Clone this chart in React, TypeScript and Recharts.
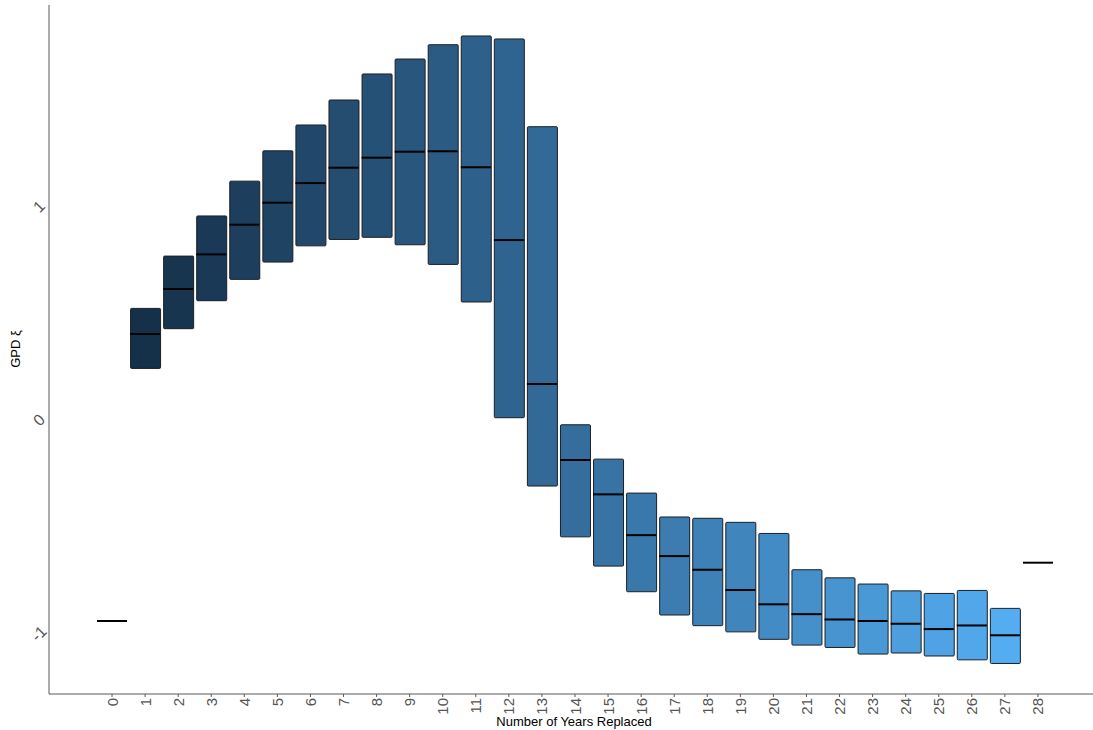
import React from 'react';
import { ComposedChart, Bar, Scatter, XAxis, YAxis, Cell } from 'recharts';

// Number of years replaced (x categories)
const years = [
  '0', '1', '2', '3', '4', '5', '6', '7', '8', '9', '10', '11', '12', '13', '14',
  '15', '16', '17', '18', '19', '20', '21', '22', '23', '24', '25', '26', '27', '28',
];

// Box bottoms / tops of GPD shape estimate (null = no box, median only)
const boxLow: (number | null)[] = [
  null, 0.242, 0.428, 0.559, 0.659, 0.74, 0.816, 0.846, 0.856, 0.821, 0.729, 0.553, 0.011, -0.309,
  -0.547, -0.684, -0.804, -0.913, -0.963, -0.992, -1.027, -1.054, -1.065, -1.096, -1.091, -1.105,
  -1.123, -1.14, null,
];
const boxHigh: (number | null)[] = [
  null, 0.523, 0.768, 0.956, 1.119, 1.261, 1.382, 1.499, 1.621, 1.691, 1.758, 1.799, 1.785, 1.374,
  -0.022, -0.183, -0.342, -0.454, -0.46, -0.479, -0.531, -0.701, -0.739, -0.768, -0.8, -0.812,
  -0.798, -0.882, null,
];
const medians = [
  -0.941, 0.403, 0.614, 0.776, 0.915, 1.018, 1.11, 1.182, 1.229, 1.257, 1.259, 1.184, 0.843, 0.169,
  -0.187, -0.348, -0.539, -0.637, -0.701, -0.796, -0.863, -0.909, -0.934, -0.941, -0.954, -0.979,
  -0.962, -1.008, -0.668,
];
const yTicks = [-1, 0, 1];

const data = years.map((year, i) => ({
  year,
  range: boxLow[i] === null ? null : [boxLow[i], boxHigh[i]],
  median: medians[i],
}));

// ggplot-like continuous fill: #132B43 -> #56B1F7
const lo = [0x13, 0x2b, 0x43];
const hi = [0x56, 0xb1, 0xf7];
const fillFor = (i: number) => {
  const t = i / (years.length - 1);
  const c = lo.map((v, k) => Math.round(v + (hi[k] - v) * t));
  return `rgb(${c[0]},${c[1]},${c[2]})`;
};

const FONT = '"Liberation Sans", Arial, Helvetica, sans-serif';

const BoxShape = (props: any) => {
  const { x, y, width, height, fill, payload } = props;
  if (!payload || !payload.range) return <g />;
  return <rect x={x} y={y} width={width} height={height} fill={fill} stroke="#1b1f24" strokeWidth={1} rx={1} />;
};

const MedianShape = (props: any) => {
  const { cx, cy } = props;
  return <line x1={cx - 15} x2={cx + 15} y1={cy} y2={cy} stroke="#000" strokeWidth={2} />;
};

const XTick = ({ x, y, payload }: any) => (
  <text
    x={x}
    y={y + 1}
    transform={`rotate(-90 ${x} ${y + 1})`}
    textAnchor="end"
    dominantBaseline="central"
    fontSize={15}
    fontFamily={FONT}
    fill="#555"
  >
    {payload.value}
  </text>
);

const YTick = ({ x, y, payload }: any) => (
  <text
    x={x - 10}
    y={y}
    transform={`rotate(-45 ${x - 10} ${y})`}
    textAnchor="middle"
    dominantBaseline="central"
    fontSize={16}
    fontFamily={FONT}
    fill="#555"
  >
    {payload.value}
  </text>
);

export default function App() {
  return (
    <div style={{ position: 'absolute', left: 0, top: 0, width: 1093, height: 730, background: '#fff' }}>
      <ComposedChart width={1093} height={730} data={data} margin={{ top: 5, right: 0, bottom: 0, left: 0 }}>
        <XAxis
          dataKey="year"
          type="category"
          height={36}
          padding={{ left: 46.5, right: 38.5 }}
          stroke="#595959"
          tickSize={3}
          tickMargin={0}
          tick={<XTick />}
          interval={0}
          label={{
            content: () => (
              <text x={574} y={726} textAnchor="middle" fontSize={13} fontFamily={FONT} fill="#000">
                Number of Years Replaced
              </text>
            ),
          }}
        />
        <YAxis
          type="number"
          width={49}
          domain={[-1.283, 1.944]}
          ticks={yTicks}
          allowDataOverflow
          stroke="#595959"
          tickLine={false}
          tickSize={0}
          tickMargin={0}
          tick={<YTick />}
          label={{
            content: () => (
              <text
                x={20}
                y={349}
                transform="rotate(-90 20 349)"
                textAnchor="middle"
                fontSize={13}
                fontFamily={FONT}
                fill="#000"
              >
                GPD ξ
              </text>
            ),
          }}
        />
        <Bar dataKey="range" barSize={30} shape={<BoxShape />} isAnimationActive={false}>
          {data.map((d, i) => (
            <Cell key={d.year} fill={fillFor(i)} />
          ))}
        </Bar>
        <Scatter dataKey="median" shape={<MedianShape />} isAnimationActive={false} />
      </ComposedChart>
    </div>
  );
}
